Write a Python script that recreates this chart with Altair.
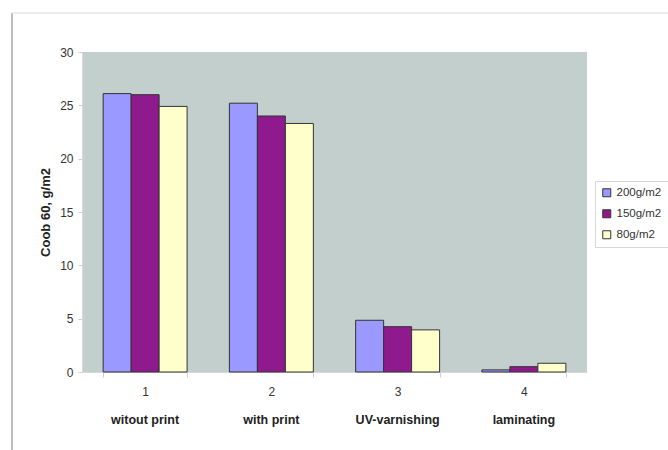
import altair as alt
import pandas as pd

# Grouped bar chart: Coob 60 water absorption by surface finish and paper weight
tick_labels = ["1", "2", "3", "4"]
categories = ["witout print", "with print", "UV-varnishing", "laminating"]
series = ["200g/m2", "150g/m2", "80g/m2"]
v200 = [26.1, 25.2, 4.85, 0.2]
v150 = [26.0, 24.0, 4.25, 0.5]
v80 = [24.9, 23.3, 3.95, 0.82]
colors = ["#9999FF", "#8F1A8D", "#FFFFCC"]

rows = []
for s, vals in zip(series, [v200, v150, v80]):
    for t, c, v in zip(tick_labels, categories, vals):
        rows.append({"num": t, "cat": c, "series": s, "value": v})
df = pd.DataFrame(rows)
cats_df = pd.DataFrame({"num": tick_labels, "cat": categories})

W, H = 505, 320
FONT = "Liberation Sans"

x_scale = alt.Scale(domain=tick_labels, paddingInner=0.335, paddingOuter=0.1675)

bars = alt.Chart(df).mark_bar(stroke="#333333", strokeWidth=1).encode(
    x=alt.X("num:N", scale=x_scale, sort=tick_labels,
            axis=alt.Axis(title=None, labelAngle=0, labelFontSize=12, labelFont=FONT,
                          labelColor="#333333", tickBand="extent", tickColor="#CFCFCF",
                          tickSize=5, labelPadding=9, domainColor="#D8D8D8")),
    xOffset=alt.XOffset("series:N", sort=series,
                        scale=alt.Scale(domain=series, paddingInner=0, paddingOuter=0)),
    y=alt.Y("value:Q", scale=alt.Scale(domain=[0, 30], nice=False),
            axis=alt.Axis(title="Coob 60, g/m2", values=[0, 5, 10, 15, 20, 25, 30],
                          labelFontSize=12, labelFont=FONT, labelColor="#333333",
                          tickColor="#CFCFCF", tickSize=4, labelPadding=5,
                          domainColor="#D8D8D8", grid=False,
                          titleFont=FONT, titleFontSize=13, titleFontWeight="bold",
                          titleColor="#222222", titleAngle=270, titleX=-37, titleY=160,
                          titleAlign="center", titleBaseline="middle")),
    color=alt.Color("series:N", sort=series,
                    scale=alt.Scale(domain=series, range=colors),
                    legend=alt.Legend(title=None, orient="none", legendX=513, legendY=129,
                                      symbolType="square", symbolSize=64,
                                      symbolStrokeColor="#333333", symbolStrokeWidth=1,
                                      labelFont=FONT, labelFontSize=11.5,
                                      labelColor="#333333", rowPadding=8, padding=6,
                                      strokeColor="#D6D6D6", fillColor="white",
                                      labelLimit=80)),
)

names = alt.Chart(cats_df).mark_text(
    font=FONT, fontSize=12.5, fontWeight="bold", color="#222222", baseline="middle"
).encode(
    x=alt.X("num:N", scale=x_scale, sort=tick_labels),
    y=alt.value(H + 48),
    text="cat:N",
)

# page frame lines around the chart
frame_left = alt.Chart(cats_df.head(1)).mark_rule(color="#BDBDBD", strokeWidth=2).encode(
    x=alt.value(-70), y=alt.value(-39), y2=alt.value(H + 80)
)
frame_top = alt.Chart(cats_df.head(1)).mark_rule(color="#E4E4E4", strokeWidth=1.5).encode(
    x=alt.value(-70), x2=alt.value(W + 90), y=alt.value(-39)
)

chart = alt.layer(frame_left, frame_top, bars, names).properties(
    width=W, height=H,
    autosize=alt.AutoSizeParams(type="none"),
    padding={"left": 82, "top": 52, "right": 81, "bottom": 78},
    background="white",
).configure_view(fill="#C2CFCD", stroke=None)

chart.save("out.html", embed_options={"renderer": "svg", "actions": False})
